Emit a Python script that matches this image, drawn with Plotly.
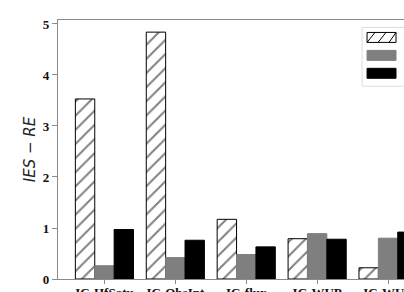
import plotly.graph_objects as go

categories = ["IC-HfSatu", "IC-ObsInt", "IC-flux", "IC-WUP", "IC-WUE"]
series_names = ["Method A", "Method B", "Method C"]
hatched_vals = [3.53, 4.84, 1.17, 0.79, 0.22]
gray_vals = [0.26, 0.42, 0.48, 0.89, 0.80]
black_vals = [0.97, 0.76, 0.63, 0.78, 0.92]

W, H = 404, 292
ML, MT = 57.5, 19.5
MB = H - 279.5
PW, PH = W - ML, H - MT - MB

fig = go.Figure()
fig.add_trace(go.Bar(x=categories, y=hatched_vals, name=series_names[0],
                     marker=dict(color="white", line=dict(color="black", width=1),
                                 pattern=dict(shape="/", fgcolor="black", bgcolor="white",
                                              size=10, solidity=0.2))))
fig.add_trace(go.Bar(x=categories, y=gray_vals, name=series_names[1],
                     marker=dict(color="#7f7f7f", line=dict(color="#7f7f7f", width=1))))
fig.add_trace(go.Bar(x=categories, y=black_vals, name=series_names[2],
                     marker=dict(color="black", line=dict(color="black", width=1))))

def px2p(x, y):
    return (x - ML) / PW, (279.5 - y) / PH

shapes = []
# legend frame
x0, y0 = px2p(362, 27)
x1, y1 = px2p(410, 86)
shapes.append(dict(type="rect", xref="paper", yref="paper", x0=x0, y0=y1, x1=x1, y1=y0,
                   line=dict(color="#dddddd", width=1), fillcolor="white", layer="above"))
# swatches
sw = [(32, 42), (50, 60), (68, 78)]
fills = ["white", "#7f7f7f", "black"]
for (ya, yb), f in zip(sw, fills):
    a0, b0 = px2p(367, ya)
    a1, b1 = px2p(396, yb)
    shapes.append(dict(type="rect", xref="paper", yref="paper", x0=a0, y0=b1, x1=a1, y1=b0,
                       line=dict(color="black" if f != "#7f7f7f" else "#7f7f7f", width=1),
                       fillcolor=f, layer="above"))
for xs in [369, 380, 391]:
    a0, b0 = px2p(xs - 2, 42)
    a1, b1 = px2p(xs + 6, 32)
    a0 = max(a0, px2p(367, 0)[0])
    a1 = min(a1, px2p(396, 0)[0])
    shapes.append(dict(type="line", xref="paper", yref="paper", x0=a0, y0=b0, x1=a1, y1=b1,
                       line=dict(color="black", width=1), layer="above"))

axis_col = "#8a8a8a"
tick_font = dict(family="Liberation Serif", size=13, color="#111111", weight="bold")
fig.update_layout(
    width=W, height=H,
    margin=dict(l=ML, r=0, t=MT, b=MB, pad=0),
    paper_bgcolor="white", plot_bgcolor="white",
    barmode="group", bargap=0.18, bargroupgap=0,
    showlegend=False,
    shapes=shapes,
    xaxis=dict(range=[-0.655, 4.225], showline=True, linecolor=axis_col, linewidth=1.2,
               mirror=True, ticks="outside", ticklen=4, tickcolor=axis_col,
               tickfont=tick_font, showgrid=False, zeroline=False, automargin=False,
               ticklabelstandoff=-3),
    yaxis=dict(range=[0, 5.078], showline=True, linecolor=axis_col, linewidth=1.2,
               mirror=False, ticks="outside", ticklen=5, tickcolor=axis_col,
               tickvals=[0, 1, 2, 3, 4, 5], tickfont=tick_font, automargin=False,
               showgrid=False, zeroline=False,
               title=dict(text="<i>IES − RE</i>", font=dict(family="DejaVu Sans", size=15, color="#222222"),
                          standoff=3)),
)
fig.write_html("out.html")
